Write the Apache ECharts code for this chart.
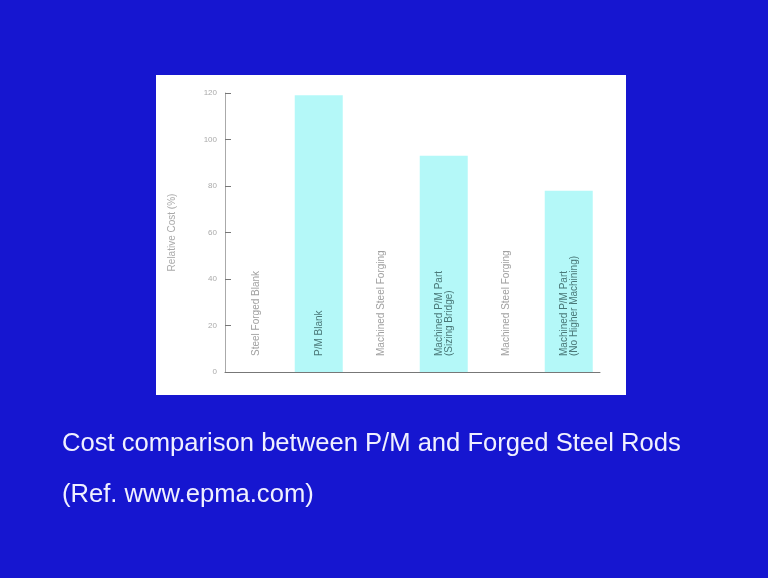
<!DOCTYPE html>
<html>
<head>
<meta charset="utf-8">
<script src="https://cdn.jsdelivr.net/npm/echarts@6/dist/echarts.min.js"></script>
<style>
html, body { margin: 0; padding: 0; background: #1616d0; }
#main { width: 768px; height: 578px; }
</style>
</head>
<body>
<div id="main"></div>
<script>
// categories and values (relative cost)
var categories = ["Steel Forged Blank", "P/M Blank", "Machined Steel Forging", "Machined P/M Part\n(Sizing Bridge)", "Machined Steel Forging", "Machined P/M Part\n(No Higher Machining)"];
var costValues = [100, 119, 100, 93, 100, 78];
var barColors = ["#ffffff", "#b4f8f8", "#ffffff", "#b4f8f8", "#ffffff", "#b4f8f8"];
var labelColors = ["#a0a0a0", "#4a7878", "#a0a0a0", "#4a7878", "#a0a0a0", "#4a7878"];
var yTicks = [0, 20, 40, 60, 80, 100, 120];

var chart = echarts.init(document.getElementById("main"));

var seriesData = [];
for (var i = 0; i < costValues.length; i++) {
    seriesData.push({
        value: costValues[i],
        itemStyle: { color: barColors[i] },
        label: { color: labelColors[i] }
    });
}

var option = {
    backgroundColor: "#1616d0",
    animation: false,
    graphic: [
        {
            type: "rect",
            z: -10,
            shape: { x: 156, y: 75, width: 470, height: 320 },
            style: { fill: "#ffffff" }
        }
    ],
    title: [
        {
            text: "Cost comparison between P/M and Forged Steel Rods",
            left: 57,
            top: 426,
            textStyle: { color: "#f0f0ff", fontSize: 25.6, fontWeight: "normal", fontFamily: "Liberation Sans" }
        },
        {
            text: "(Ref. www.epma.com)",
            left: 57,
            top: 477,
            textStyle: { color: "#f0f0ff", fontSize: 25.6, fontWeight: "normal", fontFamily: "Liberation Sans" }
        }
    ],
    grid: {
        left: 225,
        top: 93,
        width: 375,
        height: 279
    },
    xAxis: {
        type: "category",
        data: categories,
        axisLine: { lineStyle: { color: "#777777" } },
        axisTick: { show: false },
        axisLabel: { show: false }
    },
    yAxis: {
        type: "value",
        min: 0,
        max: 120,
        interval: 20,
        name: "Relative Cost (%)",
        nameLocation: "middle",
        nameGap: 48,
        nameTextStyle: { color: "#aaaaaa", fontSize: 10 },
        axisLine: { show: true, lineStyle: { color: "#aaaaaa" } },
        axisTick: { show: true, inside: true, length: 6, lineStyle: { color: "#777777" } },
        axisLabel: {
            color: "#aaaaaa",
            fontSize: 8,
            formatter: function(v) {
                return yTicks.indexOf(v) >= 0 ? String(v) : "";
            }
        },
        splitLine: { show: false }
    },
    series: [
        {
            type: "bar",
            barWidth: 48,
            data: seriesData,
            label: {
                show: true,
                position: "insideBottom",
                rotate: 90,
                align: "left",
                verticalAlign: "middle",
                distance: 16,
                fontSize: 10,
                formatter: function(p) {
                    return categories[p.dataIndex];
                }
            }
        }
    ]
};

chart.setOption(option);
</script>
</body>
</html>
